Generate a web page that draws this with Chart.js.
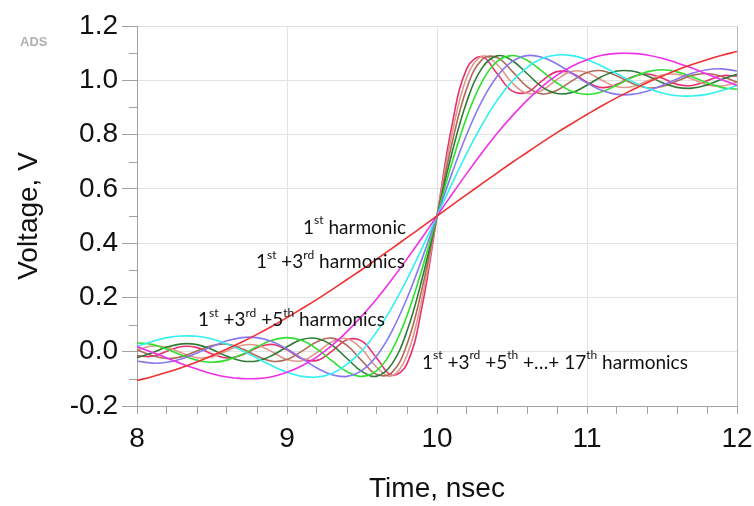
<!DOCTYPE html>
<html>
<head>
<meta charset="utf-8">
<script src="https://cdn.jsdelivr.net/npm/chart.js@4.4.1/dist/chart.umd.min.js"></script>
<style>
  html, body { margin: 0; padding: 0; background: #fff; }
  #wrap { width: 754px; height: 506px; position: relative; }
</style>
</head>
<body>
<div id="wrap"><canvas id="chart"></canvas></div>
<script>
// time axis, nsec
const times = [8.0,8.1,8.2,8.3,8.4,8.5,8.6,8.7,8.8,8.9,9.0,9.1,9.2,9.3,9.4,9.5,9.6,9.7,9.8,9.9,
  10.0,10.1,10.2,10.3,10.4,10.5,10.6,10.7,10.8,10.9,11.0,11.1,11.2,11.3,11.4,11.5,11.6,11.7,11.8,11.9,12.0]

// voltage (1st, 1st+3rd, ... up to 17th harmonic)
const h1 = [-0.106,-0.092,-0.076,-0.058,-0.038,-0.015,0.010,0.036,0.064,0.094,0.126,0.159,0.193,0.229,0.266,0.303,0.342,0.381,0.420,0.460,
  0.5,0.540,0.580,0.619,0.658,0.697,0.734,0.771,0.807,0.841,0.874,0.906,0.936,0.964,0.991,1.015,1.038,1.058,1.076,1.092,1.106]
const h3 = [0.019,-0.002,-0.023,-0.045,-0.064,-0.081,-0.093,-0.099,-0.099,-0.092,-0.076,-0.052,-0.019,0.023,0.074,0.132,0.196,0.267,0.342,0.420,
  0.5,0.580,0.658,0.733,0.804,0.868,0.926,0.977,1.019,1.052,1.076,1.092,1.099,1.099,1.093,1.081,1.064,1.045,1.023,1.002,0.981]
const h5 = [0.019,0.038,0.052,0.058,0.057,0.047,0.028,0.004,-0.024,-0.052,-0.076,-0.091,-0.093,-0.080,-0.047,0.004,0.075,0.164,0.267,0.381,
  0.5,0.619,0.733,0.836,0.925,0.996,1.047,1.080,1.093,1.091,1.076,1.052,1.024,0.996,0.972,0.953,0.943,0.942,0.948,0.962,0.981]
const h7 = [-0.034,-0.042,-0.039,-0.026,-0.005,0.019,0.040,0.052,0.052,0.038,0.010,-0.025,-0.060,-0.085,-0.091,-0.069,-0.014,0.076,0.197,0.342,
  0.5,0.658,0.803,0.924,1.014,1.069,1.091,1.085,1.060,1.025,0.990,0.962,0.948,0.948,0.960,0.981,1.005,1.026,1.039,1.042,1.034]
const h9 = [0.033,0.027,0.009,-0.013,-0.031,-0.039,-0.031,-0.010,0.018,0.042,0.052,0.041,0.010,-0.034,-0.074,-0.091,-0.069,0.006,0.133,0.304,
  0.5,0.696,0.867,0.994,1.069,1.091,1.074,1.034,0.990,0.959,0.948,0.958,0.982,1.010,1.031,1.039,1.031,1.013,0.991,0.973,0.967]
const h11 = [-0.022,-0.004,0.017,0.029,0.026,0.008,-0.017,-0.034,-0.034,-0.014,0.018,0.045,0.049,0.024,-0.025,-0.073,-0.090,-0.045,0.076,0.267,
  0.5,0.733,0.924,1.045,1.090,1.073,1.025,0.976,0.951,0.955,0.982,1.014,1.034,1.034,1.017,0.992,0.974,0.971,0.983,1.004,1.022]
const h13 = [0.007,-0.014,-0.025,-0.018,0.003,0.023,0.028,0.011,-0.016,-0.035,-0.029,0.002,0.037,0.050,0.023,-0.034,-0.084,-0.076,0.027,0.232,
  0.5,0.768,0.973,1.076,1.084,1.034,0.977,0.950,0.963,0.998,1.029,1.035,1.016,0.989,0.972,0.977,0.997,1.018,1.025,1.014,0.993]
const h15 = [0.007,0.021,0.016,-0.005,-0.022,-0.019,0.003,0.024,0.024,0.000,-0.029,-0.033,-0.003,0.037,0.048,0.009,-0.059,-0.089,-0.013,0.197,
  0.5,0.803,1.013,1.089,1.059,0.991,0.952,0.963,1.003,1.033,1.029,1.000,0.976,0.976,0.997,1.019,1.022,1.005,0.984,0.979,0.993]
const h17 = [-0.015,-0.017,0.002,0.019,0.015,-0.008,-0.023,-0.012,0.015,0.027,0.007,-0.026,-0.032,0.002,0.044,0.039,-0.025,-0.087,-0.045,0.165,
  0.5,0.835,1.045,1.087,1.025,0.961,0.956,0.998,1.032,1.026,0.993,0.973,0.985,1.012,1.023,1.008,0.985,0.981,0.998,1.017,1.015]

const seriesNames = ['1st', '1st+3rd', '1st..5th', '1st..7th', '1st..9th', '1st..11th', '1st..13th', '1st..15th', '1st..17th']
const seriesValues = [h1, h3, h5, h7, h9, h11, h13, h15, h17]
const seriesColors = ['#f03030', '#f030e8', '#30f0f0', '#8878f0', '#30e030', '#2e7a36', '#b06a58', '#e0988a', '#e8306e']

// curve labels, [text, superscript?] pieces, placed at data coords
const notes = [
  { x: 9.107, y: 0.458, parts: [['1', 0], ['st', 1], [' harmonic', 0]] },
  { x: 8.793, y: 0.330, parts: [['1', 0], ['st', 1], [' +3', 0], ['rd', 1], [' harmonics', 0]] },
  { x: 8.407, y: 0.118, parts: [['1', 0], ['st', 1], [' +3', 0], ['rd', 1], [' +5', 0], ['th', 1], [' harmonics', 0]] },
  { x: 9.900, y: -0.040, parts: [['1', 0], ['st', 1], [' +3', 0], ['rd', 1], [' +5', 0], ['th', 1], [' +\u2026+ 17', 0], ['th', 1], [' harmonics', 0]] }
]

const noteFont = '19px Lato'
const supFont = '12px Lato'

const extras = {
  id: 'extras',
  afterDraw(chart) {
    const ctx = chart.ctx
    const xs = chart.scales.x
    const ys = chart.scales.y
    ctx.save()
    // short minor ticks on the y axis
    ctx.strokeStyle = '#a0a0a0'
    ctx.lineWidth = 1
    for (let v = -0.1; v < 1.2; v += 0.2) {
      const py = Math.round(ys.getPixelForValue(v)) + 0.5
      ctx.beginPath()
      ctx.moveTo(xs.left - 8, py)
      ctx.lineTo(xs.left, py)
      ctx.stroke()
    }
    // ADS tag
    ctx.fillStyle = '#b0b0b0'
    ctx.font = 'bold 13px "Liberation Sans"'
    ctx.textBaseline = 'middle'
    ctx.fillText('ADS', 20, 42)
    // curve labels
    ctx.fillStyle = '#111'
    notes.forEach(n => {
      let px = xs.getPixelForValue(n.x)
      const py = ys.getPixelForValue(n.y)
      n.parts.forEach(([t, sup]) => {
        ctx.font = sup ? supFont : noteFont
        ctx.fillText(t, px, sup ? py - 7 : py)
        px += ctx.measureText(t).width
      })
    })
    ctx.restore()
  }
}

Chart.defaults.font.family = '"Liberation Sans", Arial, sans-serif'
Chart.defaults.color = '#111'

const datasets = seriesValues.map((vals, i) => ({
  label: seriesNames[i],
  data: times.map((t, j) => ({ x: t, y: vals[j] })),
  borderColor: seriesColors[i],
  borderWidth: 1.6,
  pointRadius: 0,
  tension: 0.4,
  fill: false
}))

new Chart(document.getElementById('chart'), {
  type: 'line',
  data: { datasets: datasets },
  options: {
    responsive: true,
    maintainAspectRatio: false,
    animation: false,
    layout: { padding: { left: 0, right: 17, top: 26, bottom: 0 } },
    plugins: { legend: { display: false }, tooltip: { enabled: false } },
    scales: {
      x: {
        type: 'linear',
        min: 8,
        max: 12,
        afterFit: s => { s.height = 100; s.paddingRight = 0; s.paddingLeft = 0 },
        border: { color: '#a0a0a0' },
        grid: {
          color: c => Math.abs(c.tick.value - Math.round(c.tick.value)) < 1e-6 ? (c.tick.value === 12 ? '#b8b8b8' : '#e2e2e2') : 'transparent',
          tickColor: '#a0a0a0',
          tickLength: 8
        },
        ticks: {
          stepSize: 0.2,
          autoSkip: false,
          maxRotation: 0,
          padding: 8,
          font: { size: 28 },
          callback: v => Math.abs(v - Math.round(v)) < 1e-6 ? String(Math.round(v)) : ''
        },
        title: { display: true, text: 'Time, nsec', font: { size: 28 }, padding: { top: 0, bottom: 0 } }
      },
      y: {
        min: -0.2,
        max: 1.2,
        afterFit: s => { s.width = 137; s.paddingTop = 0; s.paddingBottom = 0 },
        border: { color: '#a0a0a0' },
        grid: { color: '#e2e2e2', tickColor: '#a0a0a0', tickLength: 15 },
        ticks: {
          stepSize: 0.2,
          padding: 4,
          font: { size: 28 },
          callback: v => (Math.abs(v) < 1e-6 ? 0 : v).toFixed(1)
        },
        title: { display: true, text: 'Voltage, V', font: { size: 28 }, padding: { top: 12, bottom: 0 } }
      }
    }
  },
  plugins: [extras]
})
</script>
</body>
</html>
